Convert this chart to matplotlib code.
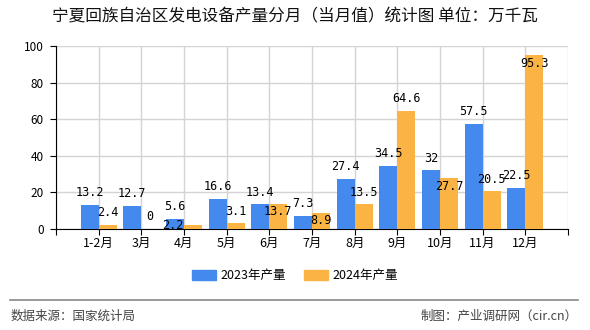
import matplotlib
matplotlib.use('Agg')
import matplotlib.pyplot as plt
import numpy as np

plt.rcParams['font.family'] = ['Noto Sans CJK SC', 'DejaVu Sans']

# data
months = ['1-2月', '3月', '4月', '5月', '6月', '7月', '8月', '9月', '10月', '11月', '12月']
y2023 = [13.2, 12.7, 5.6, 16.6, 13.4, 7.3, 27.4, 34.5, 32, 57.5, 22.5]
y2024 = [2.4, 0, 2.2, 3.1, 13.7, 8.9, 13.5, 64.6, 27.7, 20.5, 95.3]
yticks = [0, 20, 40, 60, 80, 100]

blue = '#448AEE'
orange = '#FBB343'

fig = plt.figure(figsize=(5.9, 3.3), dpi=100)
ax = fig.add_axes([56/590, 1-229/330, 512/590, 183/330])

x = np.arange(len(months))
w = 0.42
ax.bar(x - w/2, y2023, w, color=blue, zorder=3)
ax.bar(x + w/2, y2024, w, color=orange, zorder=3)

ax.set_xlim(-1, len(months))
ax.set_ylim(0, 100)
ax.set_xticks(list(range(-1, len(months) + 1)))
ax.set_xticklabels([''] + months + [''], fontsize=9)
ax.set_yticks(yticks)
ax.set_yticklabels([str(v) for v in yticks], fontsize=8.5)
ax.grid(True, color='#d4d4d4', lw=1, zorder=0)
for s in ['top', 'right']:
    ax.spines[s].set_visible(False)
ax.spines['left'].set_color('black')
ax.spines['bottom'].set_color('black')
ax.tick_params(axis='both', direction='out', length=4, color='black', pad=2)
ax.tick_params(axis='y', pad=5)

lab = dict(fontsize=8.5, family='DejaVu Sans Mono', ha='center', va='center',
           textcoords='offset points', zorder=5)
# label offsets (px); some orange labels sit inside their bar
inside = {2: (-20, -1), 4: (0, -8), 5: (0, -8), 8: (0, -8), 10: (0, -9)}
px = 72 / 100
for i, v in enumerate(y2023):
    ax.annotate(f'{v:g}', (x[i] - w/2, v), xytext=(0, 12*px), **lab)
for i, v in enumerate(y2024):
    dx, dy = inside.get(i, (0, 12))
    ax.annotate(f'{v:g}', (x[i] + w/2, v), xytext=(dx*px, dy*px), **lab)

fig.text(0.5, 1-17/330, '宁夏回族自治区发电设备产量分月（当月值）统计图 单位：万千瓦',
         ha='center', va='center', fontsize=12, color='#111111')

h1 = plt.Rectangle((0, 0), 1, 1, color=blue)
h2 = plt.Rectangle((0, 0), 1, 1, color=orange)
fig.legend([h1, h2], ['2023年产量', '2024年产量'], loc='center',
           bbox_to_anchor=(295/590, 1-276/330), ncol=2, frameon=False,
           fontsize=9, handlelength=1.9, handleheight=0.8, columnspacing=1.4,
           handletextpad=0.4)

fig.add_artist(plt.Line2D([10/590, 578/590], [1-300/330, 1-300/330],
                          color='#888888', lw=1.2))
fig.text(11/590, 1-316/330, '数据来源：国家统计局', ha='left', va='center',
         fontsize=9, color='#444444')
fig.text(578/590, 1-316/330, '制图：产业调研网（cir.cn）', ha='right', va='center',
         fontsize=9, color='#444444')

fig.savefig('out.png', dpi=100)
